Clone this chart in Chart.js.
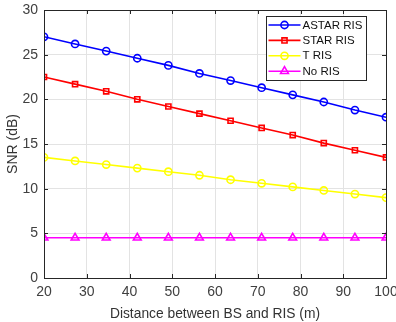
<!DOCTYPE html>
<html>
<head>
<meta charset="utf-8">
<script src="https://cdn.jsdelivr.net/npm/chart.js@4.4.1/dist/chart.umd.min.js"></script>
<style>
  html, body { margin: 0; padding: 0; background: #fff; }
  #wrap { width: 396px; height: 322px; position: relative; }
</style>
</head>
<body>
<div id="wrap"><canvas id="snrChart"></canvas></div>
<script>
// distance between BS and RIS (m), 12 points from 20 to 100
const distances = [20, 27.27, 34.55, 41.82, 49.09, 56.36, 63.64, 70.91, 78.18, 85.45, 92.73, 100];
const astarRis = [27.0, 26.2, 25.4, 24.6, 23.8, 22.9, 22.1, 21.3, 20.5, 19.7, 18.8, 18.0];
const starRis = [22.5, 21.7, 20.9, 20.0, 19.2, 18.4, 17.6, 16.8, 16.0, 15.1, 14.3, 13.5];
const tRis = [13.5, 13.1, 12.7, 12.3, 11.9, 11.5, 11.0, 10.6, 10.2, 9.8, 9.4, 9.0];
const noRis = [4.5, 4.5, 4.5, 4.5, 4.5, 4.5, 4.5, 4.5, 4.5, 4.5, 4.5, 4.5];
const seriesNames = ["ASTAR RIS", "STAR RIS", "T RIS", "No RIS"];
const xTicks = [20, 30, 40, 50, 60, 70, 80, 90, 100];
const yTicks = [0, 5, 10, 15, 20, 25, 30];

const axisColor = "#262626";
const font = "Liberation Sans, Arial, sans-serif";

function toPoints(ys) {
  return ys.map((y, i) => ({ x: distances[i], y: y }));
}

function makeSet(label, ys, color, style) {
  return {
    label: label,
    data: toPoints(ys),
    borderColor: color,
    borderWidth: 1.6,
    pointStyle: style,
    pointRadius: style === "triangle" ? 4.5 : 3.6,
    pointBorderColor: color,
    pointBackgroundColor: "rgba(0,0,0,0)",
    pointBorderWidth: 1.6,
    tension: 0,
    fill: false
  };
}

// inward ticks on all four sides + box, like MATLAB
const boxPlugin = {
  id: "box",
  afterDatasetsDraw(chart) {
    const { ctx, chartArea: a, scales } = chart;
    ctx.save();
    ctx.strokeStyle = axisColor;
    ctx.lineWidth = 1;
    ctx.strokeRect(a.left + 0.5, a.top + 0.5, a.right - a.left, a.bottom - a.top);
    const len = 4;
    ctx.beginPath();
    xTicks.forEach(v => {
      const x = Math.round(scales.x.getPixelForValue(v)) + 0.5;
      ctx.moveTo(x, a.bottom); ctx.lineTo(x, a.bottom - len);
      ctx.moveTo(x, a.top); ctx.lineTo(x, a.top + len);
    });
    yTicks.forEach(v => {
      const y = Math.round(scales.y.getPixelForValue(v)) + 0.5;
      ctx.moveTo(a.left, y); ctx.lineTo(a.left + len, y);
      ctx.moveTo(a.right, y); ctx.lineTo(a.right - len, y);
    });
    ctx.stroke();
    ctx.restore();
  }
};

// legend box drawn inside the plot, top right
const legendPlugin = {
  id: "boxLegend",
  afterDraw(chart) {
    const { ctx } = chart;
    const left = 266.5, top = 16.5, w = 100, h = 64;
    ctx.save();
    ctx.fillStyle = "#fff";
    ctx.fillRect(left, top, w, h);
    ctx.strokeStyle = axisColor;
    ctx.lineWidth = 1;
    ctx.strokeRect(left, top, w, h);
    ctx.font = "11.5px " + font;
    ctx.textBaseline = "middle";
    chart.data.datasets.forEach((ds, i) => {
      const y = top + 8.5 + i * 15.4;
      ctx.strokeStyle = ds.borderColor;
      ctx.lineWidth = 1.6;
      ctx.beginPath();
      ctx.moveTo(left + 2, y);
      ctx.lineTo(left + 34, y);
      ctx.stroke();
      ctx.fillStyle = "rgba(0,0,0,0)";
      Chart.helpers.drawPoint(ctx, {
        pointStyle: ds.pointStyle,
        radius: ds.pointRadius,
        rotation: 0,
        borderWidth: 1.6
      }, left + 18, y);
      ctx.fillStyle = "#111";
      ctx.fillText(ds.label, left + 36, y + 0.5);
    });
    ctx.restore();
  }
};

new Chart(document.getElementById("snrChart"), {
  type: "line",
  data: {
    datasets: [
      makeSet(seriesNames[0], astarRis, "#0000ff", "circle"),
      makeSet(seriesNames[1], starRis, "#ff0000", "rect"),
      makeSet(seriesNames[2], tRis, "#ffff00", "circle"),
      makeSet(seriesNames[3], noRis, "#ff00ff", "triangle")
    ]
  },
  options: {
    responsive: true,
    maintainAspectRatio: false,
    animation: false,
    layout: { padding: { top: 10, right: 10, left: 0, bottom: 0 } },
    plugins: {
      legend: { display: false },
      tooltip: { enabled: false }
    },
    scales: {
      x: {
        type: "linear",
        min: 20,
        max: 100,
        afterBuildTicks: s => { s.ticks = xTicks.map(v => ({ value: v })); },
        afterFit: s => { s.height = 44; s.paddingLeft = 0; s.paddingRight = 0; },
        grid: { color: "#e3e3e3", drawTicks: false },
        border: { display: false },
        ticks: { color: "#404040", font: { family: font, size: 14 }, padding: 6, maxRotation: 0 },
        title: {
          display: true,
          text: "Distance between BS and RIS (m)",
          color: "#333",
          font: { family: font, size: 13.8 },
          padding: { top: 0, bottom: 0 }
        }
      },
      y: {
        min: 0,
        max: 30,
        afterBuildTicks: s => { s.ticks = yTicks.map(v => ({ value: v })); },
        afterFit: s => { s.width = 44; s.paddingTop = 0; s.paddingBottom = 0; },
        grid: { color: "#e3e3e3", drawTicks: false },
        border: { display: false },
        ticks: { color: "#404040", font: { family: font, size: 14 }, padding: 6 },
        title: {
          display: true,
          text: "SNR (dB)",
          color: "#333",
          font: { family: font, size: 14 },
          padding: { top: 5, bottom: 0 }
        }
      }
    }
  },
  plugins: [boxPlugin, legendPlugin]
});
</script>
</body>
</html>
